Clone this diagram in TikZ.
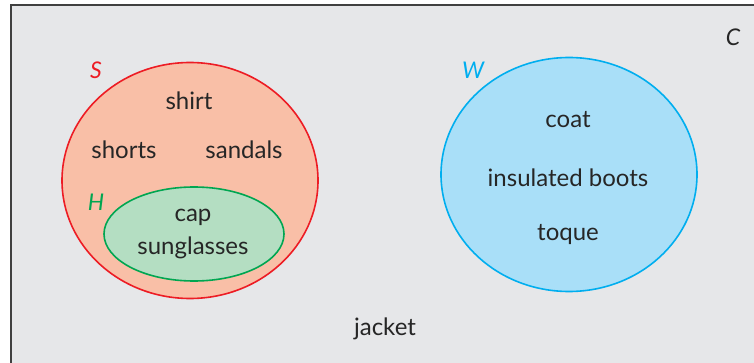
\documentclass[tikz,border=0pt]{standalone}
\usepackage{fontspec}
\setmainfont{Lato}
\begin{document}
\begin{tikzpicture}[x=1pt,y=-1pt,
  item/.style={font=\fontsize{24}{26}\selectfont, text=black!85, align=center, yshift=-2pt},
  setlabel/.style={font=\fontsize{23}{25}\selectfont\itshape},
]
\definecolor{bg}{HTML}{E6E7E9}
\definecolor{sred}{HTML}{ED1C24}
\definecolor{sfill}{HTML}{F9BFA7}
\definecolor{hgreen}{HTML}{00A651}
\definecolor{hfill}{HTML}{B4DEC2}
\definecolor{wblue}{HTML}{00AEEF}
\definecolor{wfill}{HTML}{A9DFF8}
\useasboundingbox (0,0) rectangle (754,363);
\draw[fill=bg, draw=black!75, line width=2] (11,5) rectangle (770,380);
\path[fill=sfill, draw=sred, line width=1.6] (190,180.5) ellipse [x radius=128, y radius=118];
\path[fill=hfill, draw=hgreen, line width=1.6] (194,234) ellipse [x radius=90, y radius=47];
\path[fill=wfill, draw=wblue, line width=1.6] (569,174.5) ellipse [x radius=128, y radius=117];
\node[setlabel, text=sred] (S) at (96,70) {S};
\node[setlabel, text=hgreen] (H) at (96,202) {H};
\node[setlabel, text=wblue] (W) at (473,70) {W};
\node[setlabel, text=black!85] (C) at (733,37) {C};
\node[item] (shirt) at (189,99) {shirt};
\node[item] (shorts) at (124,148) {shorts};
\node[item] (sandals) at (244,148) {sandals};
\node[item] (cap) at (193,215) {cap};
\node[item] (sung) at (193,246) {sunglasses};
\node[item] (coat) at (568,118) {coat};
\node[item] (boots) at (568,176) {insulated boots};
\node[item] (toque) at (568,233) {toque};
\node[item] (jacket) at (385,327) {jacket};
\end{tikzpicture}
\end{document}
